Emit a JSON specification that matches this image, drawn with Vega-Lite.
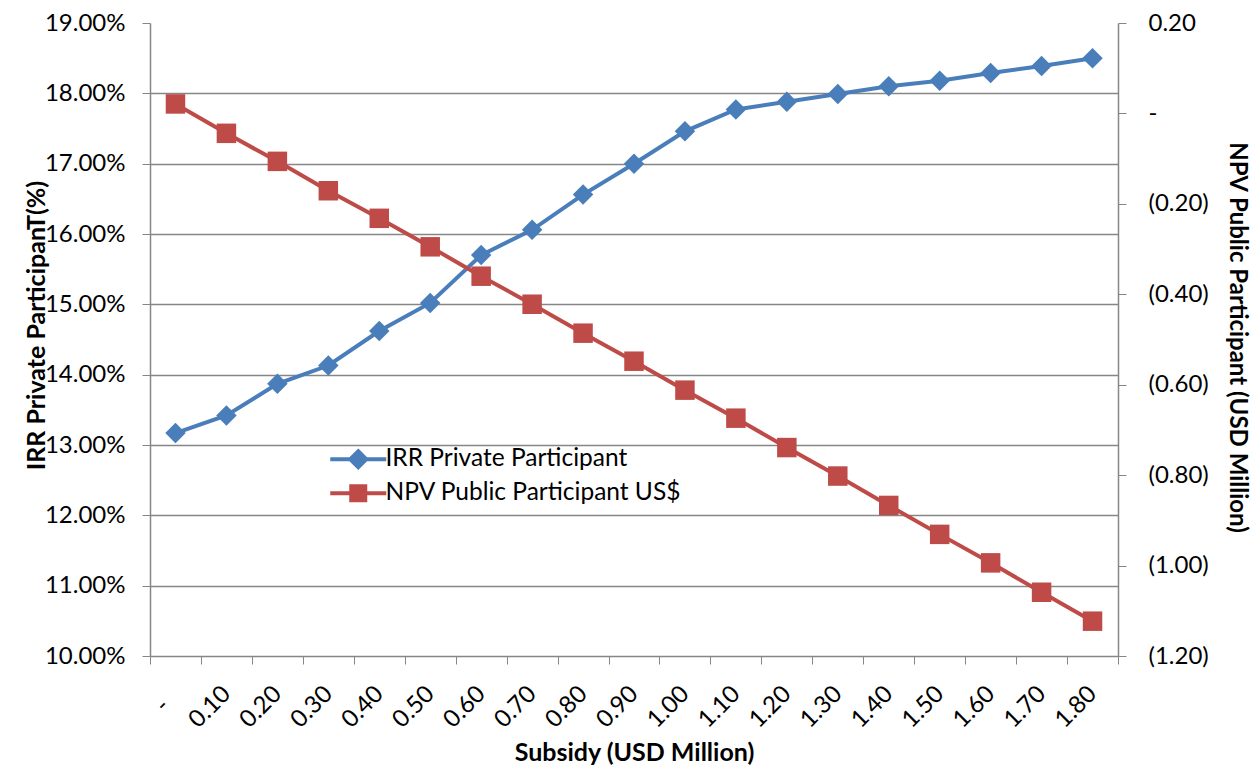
{
  "$schema": "https://vega.github.io/schema/vega-lite/v6.json",
  "width": 968,
  "height": 633,
  "autosize": {"type": "none"},
  "padding": {"left": 150, "top": 23, "right": 137, "bottom": 114},
  "background": "white",
  "data": {
    "values": [
      {"subsidy": 0.0, "irr": 13.17, "npv": 0.021},
      {"subsidy": 0.1, "irr": 13.42, "npv": -0.044},
      {"subsidy": 0.2, "irr": 13.87, "npv": -0.106},
      {"subsidy": 0.3, "irr": 14.13, "npv": -0.171},
      {"subsidy": 0.4, "irr": 14.62, "npv": -0.232},
      {"subsidy": 0.5, "irr": 15.02, "npv": -0.295},
      {"subsidy": 0.6, "irr": 15.70, "npv": -0.360},
      {"subsidy": 0.7, "irr": 16.06, "npv": -0.422},
      {"subsidy": 0.8, "irr": 16.56, "npv": -0.486},
      {"subsidy": 0.9, "irr": 17.00, "npv": -0.548},
      {"subsidy": 1.0, "irr": 17.46, "npv": -0.612},
      {"subsidy": 1.1, "irr": 17.77, "npv": -0.674},
      {"subsidy": 1.2, "irr": 17.88, "npv": -0.739},
      {"subsidy": 1.3, "irr": 17.99, "npv": -0.802},
      {"subsidy": 1.4, "irr": 18.10, "npv": -0.867},
      {"subsidy": 1.5, "irr": 18.18, "npv": -0.931},
      {"subsidy": 1.6, "irr": 18.29, "npv": -0.994},
      {"subsidy": 1.7, "irr": 18.39, "npv": -1.059},
      {"subsidy": 1.8, "irr": 18.50, "npv": -1.123}
    ]
  },
  "encoding": {
    "x": {
      "field": "subsidy",
      "type": "ordinal",
      "scale": {"type": "band", "paddingInner": 0, "paddingOuter": 0},
      "axis": {
        "tickBand": "extent",
        "tickSize": 8,
        "tickColor": "#868686",
        "domainColor": "#868686",
        "domainWidth": 1.5,
        "labelAngle": -45,
        "labelAlign": "right",
        "labelBaseline": "middle",
        "labelPadding": {"condition": {"test": "datum.value == 0", "value": 38}, "value": 26},
        "labelOffset": {"condition": {"test": "datum.value == 0", "value": -10}, "value": 0},
        "labelFont": "Lato",
        "labelFontSize": 24,
        "labelColor": "#000000",
        "labelExpr": "!isValid(datum.value) || isNaN(datum.value) ? '' : (datum.value == 0 ? '-' : format(datum.value, '.2f'))",
        "title": "Subsidy (USD Million)",
        "titleFont": "Lato",
        "titleFontSize": 25,
        "titleFontWeight": "bold",
        "titleColor": "#000000",
        "titleX": 484,
        "titleY": 96,
        "titleAlign": "center",
        "titleBaseline": "middle"
      }
    }
  },
  "layer": [
    {
      "mark": {
        "type": "line",
        "strokeWidth": 4,
        "point": {"filled": true, "shape": "diamond", "size": 420, "opacity": 1}
      },
      "encoding": {
        "y": {
          "field": "irr",
          "type": "quantitative",
          "scale": {"domain": [10, 19], "nice": false, "zero": false},
          "axis": {
            "orient": "left",
            "values": [10, 11, 12, 13, 14, 15, 16, 17, 18, 19],
            "labelExpr": "format(datum.value, '.2f') + '%'",
            "labelFont": "Lato",
            "labelFontSize": 24,
            "labelColor": "#000000",
            "labelPadding": 17,
            "tickSize": 8,
            "tickColor": "#868686",
            "domainColor": "#868686",
            "domainWidth": 1.5,
            "grid": true,
            "gridColor": "#868686",
            "gridWidth": 1.3,
            "gridOpacity": {"condition": {"test": "datum.value >= 19 || datum.value <= 10", "value": 0}, "value": 1},
            "title": "IRR Private ParticipanT(%)",
            "titleFont": "Lato",
            "titleFontSize": 25,
            "titleFontWeight": "bold",
            "titleColor": "#000000",
            "titleAngle": -90,
            "titleX": -114,
            "titleY": 302,
            "titleAlign": "center",
            "titleBaseline": "middle"
          }
        },
        "color": {
          "datum": "IRR Private Participant",
          "scale": {
            "domain": ["IRR Private Participant", "NPV Public Participant US$"],
            "range": ["#4a7ebb", "#be4b48"]
          },
          "legend": {
            "orient": "none",
            "legendX": 196,
            "legendY": 424,
            "title": null,
            "padding": 0,
            "symbolSize": 400,
            "symbolStrokeWidth": 4,
            "labelFont": "Lato",
            "labelFontSize": 24.5,
            "labelColor": "#000000",
            "labelOffset": 15,
            "labelLimit": 0,
            "rowPadding": 2,
            "encode": {
              "symbols": {
                "update": {
                  "shape": {"signal": "datum.value === 'IRR Private Participant' ? 'M-2.8,0L2.8,0M0,-0.8L0.8,0L0,0.8L-0.8,0Z' : 'M-2.8,0L2.8,0M-0.7,-0.7L0.7,-0.7L0.7,0.7L-0.7,0.7Z'"},
                  "fill": {"signal": "datum.value === 'IRR Private Participant' ? '#4a7ebb' : '#be4b48'"},
                  "stroke": {"signal": "datum.value === 'IRR Private Participant' ? '#4a7ebb' : '#be4b48'"},
                  "strokeWidth": {"value": 4},
                  "opacity": {"value": 1},
                  "fillOpacity": {"value": 1}
                }
              }
            }
          }
        }
      }
    },
    {
      "mark": {
        "type": "line",
        "strokeWidth": 4,
        "point": {"filled": true, "shape": "square", "size": 380, "opacity": 1}
      },
      "encoding": {
        "y": {
          "field": "npv",
          "type": "quantitative",
          "scale": {"domain": [-1.2, 0.2], "nice": false, "zero": false},
          "axis": {
            "orient": "right",
            "values": [-1.2, -1.0, -0.8, -0.6, -0.4, -0.2, 0, 0.2],
            "labelExpr": "datum.value == 0 ? '-' : (datum.value < 0 ? '(' + format(-datum.value, '.2f') + ')' : format(datum.value, '.2f'))",
            "labelFont": "Lato",
            "labelFontSize": 24,
            "labelColor": "#000000",
            "labelAlign": "left",
            "labelPadding": 22,
            "tickSize": 8,
            "tickColor": "#868686",
            "domainColor": "#868686",
            "domainWidth": 1.5,
            "grid": false,
            "title": "NPV Public Participant (USD Million)",
            "titleFont": "Lato",
            "titleFontSize": 24,
            "titleFontWeight": "bold",
            "titleColor": "#000000",
            "titleAngle": 90,
            "titleX": 118,
            "titleY": 314,
            "titleAlign": "center",
            "titleBaseline": "middle"
          }
        },
        "color": {"datum": "NPV Public Participant US$"}
      }
    }
  ],
  "resolve": {"scale": {"y": "independent"}},
  "config": {
    "view": {"stroke": null},
    "font": "Lato"
  }
}
